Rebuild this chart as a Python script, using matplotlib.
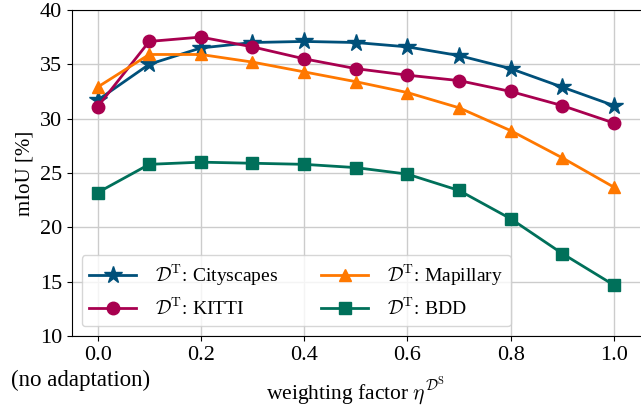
import matplotlib
matplotlib.use('Agg')
import matplotlib.pyplot as plt

plt.rcParams['font.family'] = 'Liberation Serif'
plt.rcParams['mathtext.fontset'] = 'cm'
plt.rcParams['font.size'] = 14

# Daten
eta = [0.0, 0.1, 0.2, 0.3, 0.4, 0.5, 0.6, 0.7, 0.8, 0.9, 1.0]
cityscapes = [31.7, 35.0, 36.5, 37.0, 37.1, 37.0, 36.6, 35.8, 34.6, 32.9, 31.2]
kitti = [31.1, 37.1, 37.5, 36.6, 35.5, 34.6, 34.0, 33.5, 32.5, 31.2, 29.6]
mapillary = [32.9, 35.9, 35.9, 35.2, 34.3, 33.4, 32.4, 31.0, 28.9, 26.4, 23.7]
bdd = [23.2, 25.8, 26.0, 25.9, 25.8, 25.5, 24.9, 23.4, 20.8, 17.6, 14.7]

xticks = [0.0, 0.2, 0.4, 0.6, 0.8, 1.0]
xticklabels = ['0.0', '0.2', '0.4', '0.6', '0.8', '1.0']

fig = plt.figure(figsize=(6.41, 4.12), dpi=100)
ax = fig.add_axes([0.112, 0.184, 0.886, 0.792])

ax.plot(eta, cityscapes, '-*', color='#00507a', lw=2, ms=13, label=r'$\mathcal{D}^\mathrm{T}$: Cityscapes')
ax.plot(eta, kitti, '-o', color='#a8004f', lw=2, ms=9, label=r'$\mathcal{D}^\mathrm{T}$: KITTI')
ax.plot(eta, mapillary, '-^', color='#ff7800', lw=2, ms=9, label=r'$\mathcal{D}^\mathrm{T}$: Mapillary')
ax.plot(eta, bdd, '-s', color='#00705a', lw=2, ms=8, label=r'$\mathcal{D}^\mathrm{T}$: BDD')

ax.set_xlim(-0.05, 1.05)
ax.set_ylim(10, 40)
ax.set_xticks(xticks)
ax.set_xticklabels(xticklabels)
ax.set_yticks([10, 15, 20, 25, 30, 35, 40])
ax.tick_params(labelsize=16)
ax.grid(True, color='#cccccc', lw=1)
ax.set_axisbelow(True)
ax.spines['right'].set_visible(False)
ax.set_ylabel('mIoU [%]', fontsize=15)
ax.set_xlabel(r'weighting factor $\eta^{\mathcal{D}^\mathrm{S}}$', labelpad=8, fontsize=15.5)
# zweite Zeile unter 0.0
ax.annotate('(no adaptation)', xy=(0.0, 0), xycoords=('data', 'axes fraction'),
            xytext=(-12, -24), textcoords='offset points', ha='center', va='top',
            fontsize=16.5)
ax.legend(ncol=2, loc='lower left', framealpha=0.8, columnspacing=2.2,
          handlelength=2.4, handletextpad=1.0)

plt.savefig('out.png', dpi=100)
